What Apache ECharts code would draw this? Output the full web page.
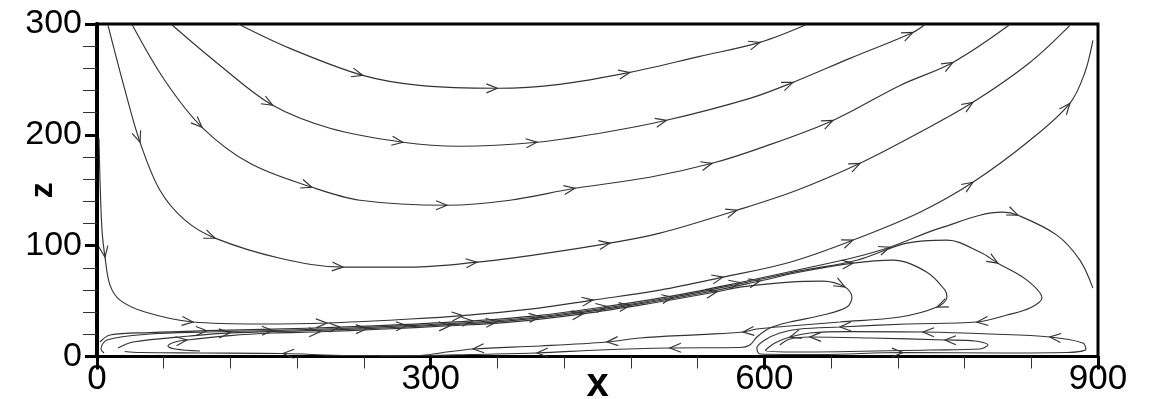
<!DOCTYPE html>
<html>
<head>
<meta charset="utf-8">
<script src="https://cdn.jsdelivr.net/npm/echarts@6/dist/echarts.min.js"></script>
<style>
  html, body { margin: 0; padding: 0; background: #fff; }
  #main { width: 1155px; height: 399px; }
</style>
</head>
<body>
<div id="main"></div>
<script>
// streamlines, points listed in flow direction: [x, z]
const lineA = [[127,300],[173.5,278],[239,253.6],[290,244.6],[360,242],[416,245.5],[479,256.3],[542,270.8],[596,283.4],[638,299.5]]
const lineB = [[67,299.5],[110.6,262.6],[158,226.6],[209.5,205.9],[275,193.3],[326,189.7],[395.6,193.3],[452,201.4],[512,213.1],[587,232.9],[625.7,247.3],[677,269],[733.6,292.4],[744.4,299.5]]
const lineC = [[31.5,299.5],[61,249],[94.4,206.8],[137.5,174.3],[193.3,152.7],[236.4,141],[314.7,136.5],[371.3,141],[429.7,151.8],[497,161.7],[553,174.3],[596,188],[661.7,213],[722,244.6],[769.5,265.3],[820.8,299.5]]
const lineD = [[9.9,298.7],[25.2,240.1],[38.7,193.3],[56.6,150],[79.1,123],[106.1,106.8],[164.5,88.7],[221.2,80.6],[281.4,80.6],[341.6,85.1],[398.3,92.4],[461.2,102.3],[506.1,111.3],[575.4,132],[629.3,150],[686,174.3],[739.9,202.3],[787.5,229.3],[838.8,265.3],[874.7,298.7]]
const lineE = [[1.8,196.9],[2.7,159],[4.5,114],[7.2,89.6],[11.7,64.4],[20.7,50.9],[43.2,40.1],[86.3,31.1],[146.5,29.3],[206.8,30.2],[281.4,33.8],[329,36.9],[389.3,42.8],[445.9,50.9],[506.1,59.9],[562.8,71.6],[623,85.1],[679.7,105],[739.9,130.2],[787.5,157.2],[838.8,195.1],[874.7,228.4],[888.2,256.3],[895.4,285.2]]
const lineF = [[2.7,13.1],[11.7,19.4],[47.6,21.6],[98.9,23.3],[158.2,24.7],[218.5,26.5],[278.7,29],[338,32.1],[398.3,37.1],[458.5,45.2],[517.8,54.7],[578.1,66.8],[632,78.5],[677,88.4],[712.9,98.6],[757.9,115.8],[814.5,130.2],[828,127.5],[863,109.5],[883.7,86.9],[895.4,61.7]]
const lineG = [[6.3,3.2],[3.6,6.8],[9,14.9],[47.6,20.3],[98.9,22.1],[158.2,23.5],[218.5,25.3],[278.7,27.8],[338,30.9],[398.3,35.9],[458.5,44],[517.8,53.5],[578.1,65.6],[632,77.3],[683.2,86.9],[728.2,102.3],[764.2,105],[793.8,94.2],[810,84.2],[836.1,68.9],[849.6,52.7],[838.8,43.7],[818.1,37.4],[791.1,31.1],[728.2,29.3],[668,26.6],[632,24.8],[614,21.2],[600.5,14.9],[593.3,7.7],[596,2.3],[650,1.8],[724.6,3.6],[811.8,3.2],[872,3.6],[889.1,6.8],[886.4,12.2],[856.7,17.6],[802.8,20.3],[742.6,22.1],[677,22.5],[641,21.2],[623,17.6],[609.5,12.2],[601,5.5],[632,4.1],[748.9,5.9],[793.8,6.8],[801,10.4],[789.3,14],[762.4,14.9],[694.9,16.7],[641,17.6],[623,15.8],[614,10.4]]
const lineH = [[18.9,7.7],[32.4,13.1],[83.6,18.5],[119.6,21.3],[182.5,23.1],[242.7,25.1],[299.4,27.9],[359.6,31.2],[416.2,37.1],[479.2,46.1],[542.1,56.8],[596,68.1],[632,76.2],[679.7,84.2],[715.6,86.9],[746.2,76.1],[762.4,59.9],[764.2,53.6],[755.2,44.6],[721.9,35.6],[668,31.1],[623,27.5],[593.3,24.8],[580.8,22.1],[542.1,19.8],[488.2,16.7],[458.5,13.1],[398.3,9.5],[338,6.8],[308.4,3.2],[290.4,0.9],[227.4,0.9],[167.2,2.7],[92.6,3.2],[38.7,3.6],[25,4.5]]
const lineI = [[92.6,5],[70.1,6.8],[63.8,9.5],[70.1,13.1],[80.9,14.9],[119.6,18.9],[158.2,21.2],[200.5,22.3],[254.4,24.6],[317.3,27.7],[371.3,31],[436.9,38.5],[497.1,47.8],[557.4,58.4],[578.1,62.6],[623,67.1],[652.7,68],[672.5,62.6],[678.8,53.6],[674.3,44.6],[652.7,37.4],[623,31.1],[605,25.7],[593.3,17.6],[587,10.4],[578.1,8.1],[515.1,7.7],[452.2,5.9],[395.6,3.2],[335.3,1.8],[302.1,0.9],[254.4,0.5]]

const streamlines = [lineA, lineB, lineC, lineD, lineE, lineF, lineG, lineH, lineI]

// arrow heads: [streamline index, point index]
const arrowMarks = [
  [0,2],[0,4],[0,6],[0,8],
  [1,2],[1,4],[1,6],[1,8],[1,10],[1,12],
  [2,2],[2,4],[2,6],[2,8],[2,10],[2,12],[2,14],
  [3,2],[3,5],[3,7],[3,9],[3,11],[3,13],[3,15],[3,17],
  [4,3],[4,7],[4,9],[4,11],[4,13],[4,15],[4,17],[4,19],[4,21],
  [5,3],[5,5],[5,7],[5,9],[5,11],[5,14],[5,17],
  [6,5],[6,7],[6,9],[6,11],[6,18],[6,23],[6,25],[6,32],[6,37],[6,39],[6,42],[6,50],[6,52],
  [7,3],[7,5],[7,7],[7,9],[7,11],[7,13],[7,18],[7,23],[7,26],[7,28],[7,32],
  [8,4],[8,7],[8,9],[8,11],[8,13],[8,17],[8,26],[8,28]
]

const xTicks = [0, 300, 600, 900]
const zTicks = [0, 100, 200, 300]

const font = '"Liberation Sans", Arial, sans-serif'
const ink = '#333'

const chart = echarts.init(document.getElementById('main'))

const arrowData = arrowMarks.map(([s, i]) => {
  const pts = streamlines[s]
  const p = pts[i]
  const a = pts[Math.max(i - 1, 0)]
  const b = pts[Math.min(i + 1, pts.length - 1)]
  return [p[0], p[1], a[0], a[1], b[0], b[1]]
})

const option = {
  animation: false,
  backgroundColor: '#fff',
  grid: {
    left: 97,
    right: 57,
    top: 24,
    bottom: 42.5,
    outerBoundsMode: 'none',
    containLabel: false,
    show: true,
    borderColor: '#000',
    borderWidth: 3,
    backgroundColor: 'transparent'
  },
  xAxis: {
    type: 'value',
    min: xTicks[0],
    max: xTicks[xTicks.length - 1],
    interval: xTicks[1] - xTicks[0],
    name: 'x',
    nameLocation: 'middle',
    nameGap: 8,
    nameMoveOverlap: false,
    nameTextStyle: { fontFamily: font, fontWeight: 'bold', fontSize: 40, color: '#000' },
    axisLine: { onZero: false, lineStyle: { color: '#000', width: 3 } },
    axisTick: { length: 13, lineStyle: { color: '#000', width: 3 } },
    minorTick: { show: true, splitNumber: 5, length: 12, lineStyle: { color: '#333', width: 1 } },
    splitLine: { show: false },
    axisLabel: { fontFamily: font, fontSize: 35, color: '#000', margin: 5 }
  },
  yAxis: {
    type: 'value',
    min: zTicks[0],
    max: zTicks[zTicks.length - 1],
    interval: zTicks[1] - zTicks[0],
    name: 'z',
    nameLocation: 'middle',
    nameGap: 38,
    nameMoveOverlap: false,
    nameTextStyle: { fontFamily: font, fontWeight: 'bold', fontSize: 32, color: '#000' },
    axisLine: { show: true, onZero: false, lineStyle: { color: '#000', width: 4 } },
    axisTick: { show: true, length: 12, lineStyle: { color: '#000', width: 3 } },
    minorTick: { show: true, splitNumber: 5, length: 14, lineStyle: { color: '#333', width: 1 } },
    splitLine: { show: false },
    axisLabel: { fontFamily: font, fontSize: 34, color: '#000', margin: 15 }
  },
  series: streamlines.map(pts => ({
    type: 'line',
    data: pts,
    smooth: 0.35,
    showSymbol: false,
    silent: true,
    lineStyle: { color: ink, width: 1.15 }
  })).concat([{
    type: 'custom',
    data: arrowData,
    encode: { x: 0, y: 1 },
    silent: true,
    renderItem: (params, api) => {
      const p = api.coord([api.value(0), api.value(1)])
      const a = api.coord([api.value(2), api.value(3)])
      const b = api.coord([api.value(4), api.value(5)])
      let dx = b[0] - a[0]
      let dy = b[1] - a[1]
      const len = Math.sqrt(dx * dx + dy * dy) || 1
      dx /= len
      dy /= len
      const L = 11
      const W = 4.5
      return {
        type: 'polyline',
        shape: {
          points: [
            [p[0] - L * dx - W * dy, p[1] - L * dy + W * dx],
            [p[0], p[1]],
            [p[0] - L * dx + W * dy, p[1] - L * dy - W * dx]
          ]
        },
        style: { stroke: ink, fill: 'none', lineWidth: 1.15 }
      }
    }
  }])
}

chart.setOption(option)
</script>
</body>
</html>
